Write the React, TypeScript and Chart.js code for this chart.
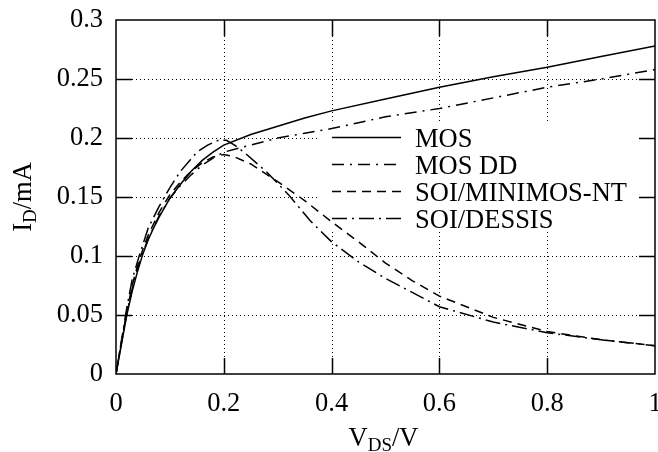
import { useEffect, useRef } from "react";
import { Chart, registerables } from "chart.js";
Chart.register(...registerables);

const xTicks = [0, 0.2, 0.4, 0.6, 0.8, 1];
const yTicks = [0, 0.05, 0.1, 0.15, 0.2, 0.25, 0.3];
const seriesLabels = ["MOS", "MOS DD", "SOI/MINIMOS-NT", "SOI/DESSIS"];

const mosX = [0, 0.01, 0.02, 0.03, 0.04, 0.05, 0.06, 0.07, 0.08, 0.1, 0.12, 0.14, 0.16, 0.18, 0.2, 0.25, 0.3, 0.35, 0.4, 0.5, 0.6, 0.7, 0.8, 0.9, 1];
const mosY = [0, 0.025, 0.05, 0.07, 0.087, 0.102, 0.114, 0.124, 0.133, 0.149, 0.161, 0.172, 0.181, 0.188, 0.194, 0.203, 0.21, 0.217, 0.223, 0.233, 0.243, 0.252, 0.26, 0.269, 0.278];

const mosDdX = [0, 0.01, 0.02, 0.03, 0.04, 0.05, 0.06, 0.08, 0.1, 0.12, 0.14, 0.16, 0.18, 0.2, 0.25, 0.3, 0.35, 0.4, 0.5, 0.6, 0.7, 0.8, 0.9, 1];
const mosDdY = [0, 0.026, 0.051, 0.072, 0.089, 0.103, 0.115, 0.134, 0.149, 0.16, 0.169, 0.177, 0.183, 0.188, 0.194, 0.2, 0.204, 0.208, 0.218, 0.225, 0.234, 0.243, 0.25, 0.258];

const minimosX = [0, 0.01, 0.02, 0.03, 0.04, 0.05, 0.06, 0.08, 0.1, 0.12, 0.14, 0.16, 0.18, 0.2, 0.22, 0.25, 0.3, 0.35, 0.4, 0.45, 0.5, 0.55, 0.6, 0.7, 0.8, 0.9, 1];
const minimosY = [0, 0.027, 0.053, 0.075, 0.092, 0.106, 0.118, 0.137, 0.152, 0.163, 0.172, 0.179, 0.184, 0.186, 0.184, 0.178, 0.163, 0.147, 0.129, 0.112, 0.094, 0.079, 0.066, 0.048, 0.036, 0.029, 0.024];

const dessisX = [0, 0.01, 0.02, 0.03, 0.043, 0.06, 0.08, 0.1, 0.12, 0.15, 0.17, 0.19, 0.205, 0.22, 0.24, 0.28, 0.32, 0.36, 0.4, 0.45, 0.5, 0.6, 0.7, 0.8, 0.9, 1];
const dessisY = [0, 0.028, 0.056, 0.08, 0.1, 0.124, 0.142, 0.158, 0.172, 0.188, 0.194, 0.198, 0.198, 0.194, 0.187, 0.171, 0.152, 0.13, 0.112, 0.095, 0.081, 0.057, 0.044, 0.035, 0.029, 0.024];

const FONT = '"Liberation Serif", "Times New Roman", serif';
const MAIN_SIZE = 26.5;
const SUB_SIZE = 19;

function pts(xs: number[], ys: number[]) {
  return xs.map((x, i) => ({ x, y: ys[i] }));
}

function drawSubText(ctx: CanvasRenderingContext2D, parts: [string, boolean][], cx: number, baseline: number) {
  const main = `${MAIN_SIZE}px ${FONT}`;
  const sub = `${SUB_SIZE}px ${FONT}`;
  let w = 0;
  for (const [t, s] of parts) {
    ctx.font = s ? sub : main;
    w += ctx.measureText(t).width;
  }
  let x = cx - w / 2;
  ctx.textAlign = "left";
  ctx.textBaseline = "alphabetic";
  for (const [t, s] of parts) {
    ctx.font = s ? sub : main;
    ctx.fillText(t, x, baseline + (s ? 5 : 0));
    x += ctx.measureText(t).width;
  }
}

const framePlugin = {
  id: "frame",
  beforeDatasetsDraw(chart: any) {
    const { ctx, chartArea: a, scales } = chart;
    const xs = scales.x, ys = scales.y;
    ctx.save();
    ctx.strokeStyle = "#000";
    ctx.lineWidth = 1;
    ctx.setLineDash([1, 3]);
    for (const v of xTicks.slice(1, -1)) {
      const px = Math.round(xs.getPixelForValue(v)) + 0.5;
      ctx.beginPath(); ctx.moveTo(px, a.top); ctx.lineTo(px, a.bottom); ctx.stroke();
    }
    for (const v of yTicks.slice(1, -1)) {
      const py = Math.round(ys.getPixelForValue(v)) + 0.5;
      ctx.beginPath(); ctx.moveTo(a.left, py); ctx.lineTo(a.right, py); ctx.stroke();
    }
    ctx.setLineDash([]);
    // key area clears the grid behind it
    ctx.fillStyle = "#fff";
    ctx.fillRect(318, 124, 320, 107);
    ctx.restore();
  },
  afterDatasetsDraw(chart: any) {
    const { ctx, chartArea: a, scales } = chart;
    const xs = scales.x, ys = scales.y;
    ctx.save();
    ctx.strokeStyle = "#000";
    ctx.lineWidth = 1.5;
    ctx.setLineDash([]);
    ctx.strokeRect(a.left, a.top, a.right - a.left, a.bottom - a.top);
    const TL = 16;
    for (const v of xTicks.slice(1, -1)) {
      const px = Math.round(xs.getPixelForValue(v)) + 0.5;
      ctx.beginPath();
      ctx.moveTo(px, a.bottom); ctx.lineTo(px, a.bottom - TL);
      ctx.moveTo(px, a.top); ctx.lineTo(px, a.top + TL);
      ctx.stroke();
    }
    for (const v of yTicks.slice(1, -1)) {
      const py = Math.round(ys.getPixelForValue(v)) + 0.5;
      ctx.beginPath();
      ctx.moveTo(a.left, py); ctx.lineTo(a.left + TL, py);
      ctx.moveTo(a.right, py); ctx.lineTo(a.right - TL, py);
      ctx.stroke();
    }
    // key
    ctx.fillStyle = "#000";
    chart.data.datasets.forEach((ds: any, i: number) => {
      const yy = 137.5 + i * 27;
      ctx.lineWidth = ds.borderWidth;
      ctx.setLineDash(ds.borderDash || []);
      ctx.beginPath(); ctx.moveTo(332, yy); ctx.lineTo(401, yy); ctx.stroke();
      ctx.setLineDash([]);
      ctx.font = `${MAIN_SIZE}px ${FONT}`;
      ctx.textAlign = "left";
      ctx.textBaseline = "alphabetic";
      ctx.fillText(ds.label, 415, yy + 9);
    });
    // axis titles
    drawSubText(ctx, [["V", false], ["DS", true], ["/V", false]], (a.left + a.right) / 2 - 2, 446);
    ctx.save();
    ctx.translate(31, (a.top + a.bottom) / 2);
    ctx.rotate(-Math.PI / 2);
    drawSubText(ctx, [["I", false], ["D", true], ["/mA", false]], 0, 0);
    ctx.restore();
    ctx.restore();
  },
};

export default function App() {
  const ref = useRef<HTMLCanvasElement>(null);
  useEffect(() => {
    document.body.style.margin = "0";
    const chart = new Chart(ref.current!, {
      type: "scatter",
      data: {
        datasets: [
          { label: seriesLabels[0], data: pts(mosX, mosY), borderDash: [] },
          { label: seriesLabels[1], data: pts(mosDdX, mosDdY), borderDash: [12, 6, 2, 6] },
          { label: seriesLabels[2], data: pts(minimosX, minimosY), borderDash: [9, 6] },
          { label: seriesLabels[3], data: pts(dessisX, dessisY), borderDash: [15, 5, 2, 5] },
        ].map((d) => ({
          ...d,
          showLine: true,
          pointRadius: 0,
          borderColor: "#000",
          backgroundColor: "#000",
          borderWidth: 1.5,
          tension: 0,
          fill: false,
        })),
      },
      options: {
        responsive: false,
        animation: false,
        events: [],
        layout: { padding: { left: 0, right: 3, top: 20, bottom: 0 } },
        plugins: { legend: { display: false }, tooltip: { enabled: false } },
        scales: {
          x: {
            type: "linear",
            min: 0,
            max: 1,
            grid: { display: false, drawTicks: false },
            border: { display: false },
            ticks: {
              stepSize: 0.2,
              padding: 14,
              color: "#000",
              font: { family: FONT, size: MAIN_SIZE },
              maxRotation: 0,
              callback: (v: any) => String(Number(Number(v).toFixed(2))),
            },
            afterFit: (s: any) => { s.height = 78; s.paddingLeft = 0; s.paddingRight = 0; },
          },
          y: {
            type: "linear",
            min: 0,
            max: 0.3,
            grid: { display: false, drawTicks: false },
            border: { display: false },
            ticks: {
              stepSize: 0.05,
              padding: 13,
              color: "#000",
              font: { family: FONT, size: MAIN_SIZE },
              callback: (v: any) => String(Number(Number(v).toFixed(2))),
            },
            afterFit: (s: any) => { s.width = 116; s.paddingTop = 0; s.paddingBottom = 0; },
          },
        },
      },
      plugins: [framePlugin],
    } as any);
    return () => chart.destroy();
  }, []);
  return (
    <div style={{ position: "absolute", left: 0, top: 0 }}>
      <canvas ref={ref} width={658} height={452} style={{ display: "block" }} />
    </div>
  );
}
